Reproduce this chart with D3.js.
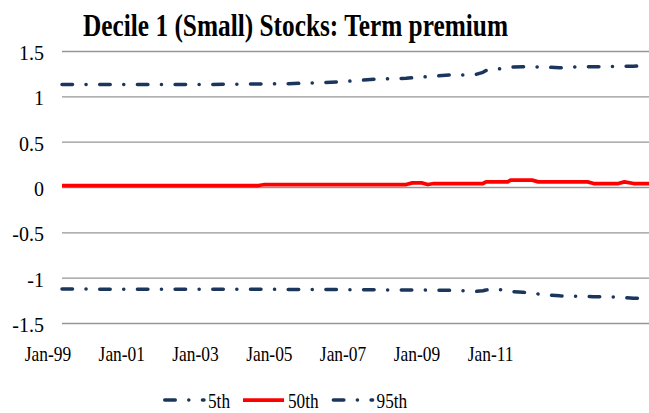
<!DOCTYPE html>
<html>
<head>
<meta charset="utf-8">
<script src="https://cdn.jsdelivr.net/npm/d3@7"></script>
<style>
  body { margin: 0; background: #fff; }
  svg { display: block; font-family: "Liberation Serif", "DejaVu Serif", serif; }
</style>
</head>
<body>
<div id="app"></div>
<script>
// data (sample months, values for each percentile)
let months = ["1999-01","2001-01","2003-01","2004-01","2004-05","2004-07","2005-01","2006-01",
  "2006-07","2007-01","2007-07","2008-01","2008-05","2008-07","2008-10","2008-12","2009-02",
  "2009-07","2010-01","2010-04","2010-06","2010-07","2010-10","2011-01","2011-02","2011-03",
  "2011-04","2011-07","2011-10","2011-12","2012-01","2012-07","2013-01","2013-04","2013-06",
  "2014-01","2014-02","2014-04","2014-07","2014-12"];

let p95 = [1.135,1.135,1.137,1.14,1.141,1.142,1.144,1.155,1.165,1.18,1.195,1.20,1.205,1.21,
  1.218,1.222,1.228,1.24,1.24,1.25,1.27,1.29,1.305,1.315,1.32,1.325,1.33,1.332,1.331,1.33,
  1.33,1.32,1.332,1.332,1.332,1.335,1.335,1.336,1.337,1.348];

let p50 = [0.022,0.022,0.022,0.022,0.022,0.033,0.033,0.033,0.033,0.033,0.033,0.033,0.033,0.051,
  0.051,0.033,0.044,0.044,0.044,0.044,0.044,0.062,0.062,0.062,0.062,0.081,0.081,0.081,0.081,0.062,
  0.062,0.062,0.062,0.062,0.044,0.044,0.044,0.062,0.044,0.044];

let p5 = [-1.12,-1.122,-1.122,-1.123,-1.123,-1.123,-1.124,-1.125,-1.126,-1.127,-1.128,-1.13,-1.13,
  -1.13,-1.131,-1.132,-1.133,-1.134,-1.14,-1.145,-1.138,-1.13,-1.122,-1.13,-1.138,-1.145,-1.15,
  -1.155,-1.165,-1.174,-1.178,-1.195,-1.2,-1.202,-1.204,-1.208,-1.21,-1.215,-1.222,-1.222];

let yTicks = [-1.5, -1, -0.5, 0, 0.5, 1, 1.5];
let xTickLabels = ["Jan-99","Jan-01","Jan-03","Jan-05","Jan-07","Jan-09","Jan-11"];
let seriesNames = ["5th", "50th", "95th"];

let svgWidth = 649, svgHeight = 413;
let plot = {left: 62, right: 649, top: 51.5, bottom: 323.5};

let navy = "#1B365D", red = "#FF0000";
let dashDot = "10.5,13.5,0.1,13.6";

let parseMonth = d3.timeParse("%Y-%m");
let parseLabel = d3.timeParse("%b-%y");
let dates = months.map(parseMonth);

let svg = d3.select("#app").append("svg")
    .attr("width", svgWidth)
    .attr("height", svgHeight);

let x = d3.scaleTime()
    .domain([dates[0], dates[dates.length - 1]])
    .range([plot.left, plot.right]);

let y = d3.scaleLinear()
    .domain([-1.5, 1.5])
    .range([plot.bottom, plot.top]);

        //title
svg.append("text")
    .attr("x", 83)
    .attr("y", 36)
    .attr("font-size", 32)
    .attr("font-weight", "bold")
    .attr("textLength", 425)
    .attr("lengthAdjust", "spacingAndGlyphs")
    .attr("fill", "#000")
    .text("Decile 1 (Small) Stocks: Term premium");

        //gridlines
svg.append("g")
    .selectAll("line")
    .data(yTicks)
    .enter().append("line")
        .attr("x1", plot.left)
        .attr("x2", plot.right)
        .attr("y1", d => y(d))
        .attr("y2", d => y(d))
        .attr("stroke", "#969696")
        .attr("stroke-width", 1.4);

        //y tick labels
svg.append("g")
    .selectAll("text")
    .data(yTicks)
    .enter().append("text")
        .attr("x", 44)
        .attr("y", d => y(d) + 8.5)
        .attr("text-anchor", "end")
        .attr("font-size", 20)
        .attr("fill", "#000")
        .text(d => String(d));

        //x tick labels (shifted left like the original)
svg.append("g")
    .selectAll("text")
    .data(xTickLabels)
    .enter().append("text")
        .attr("transform", d => `translate(${x(parseLabel(d)) - 14},361) scale(0.85,1)`)
        .attr("text-anchor", "middle")
        .attr("font-size", 20.5)
        .attr("fill", "#000")
        .text(d => d);

        //series
let line = d3.line()
    .x((d, i) => x(dates[i]))
    .y(d => y(d));

let series = [
    {name: seriesNames[0], values: p5, color: navy, dash: dashDot, width: 3.5},
    {name: seriesNames[1], values: p50, color: red, dash: null, width: 3.75},
    {name: seriesNames[2], values: p95, color: navy, dash: dashDot, width: 3.5}
];

svg.append("g")
    .selectAll("path")
    .data(series)
    .enter().append("path")
        .attr("d", d => line(d.values))
        .attr("fill", "none")
        .attr("stroke", d => d.color)
        .attr("stroke-width", d => d.width)
        .attr("stroke-dasharray", d => d.dash)
        .attr("stroke-linecap", d => d.dash ? "round" : "butt")
        .attr("stroke-linejoin", "round");

        //legend
let legend = svg.append("g");
let lx = 163;
series.forEach(s => {
    legend.append("line")
        .attr("x1", s.dash ? lx + 1.75 : lx)
        .attr("x2", lx + 41)
        .attr("y1", 400)
        .attr("y2", 400)
        .attr("stroke", s.color)
        .attr("stroke-width", s.width)
        .attr("stroke-dasharray", s.dash)
        .attr("stroke-linecap", s.dash ? "round" : "butt");
    let t = legend.append("text")
        .attr("transform", `translate(${lx + 45},407.5) scale(0.84,1)`)
        .attr("font-size", 20.5)
        .attr("fill", "#000")
        .text(s.name);
    lx += 45 + t.node().getComputedTextLength() * 0.84 + 13;
});
</script>
</body>
</html>
